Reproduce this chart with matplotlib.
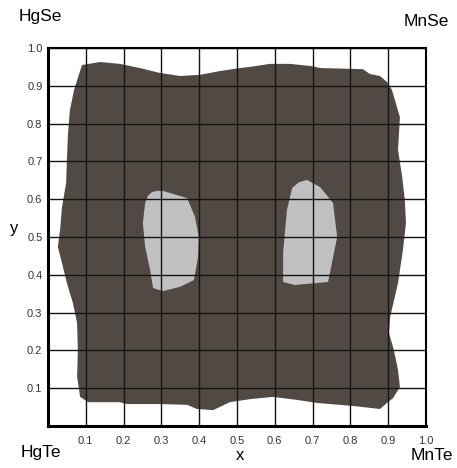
import matplotlib.pyplot as plt
from matplotlib.patches import Polygon

plt.rcParams['font.family'] = ['Liberation Sans', 'DejaVu Sans']

# outline of the two-phase region (x, y in composition units)
gap_x = [0.090, 0.138, 0.190, 0.243, 0.296, 0.349, 0.402, 0.455, 0.508, 0.534,
         0.587, 0.640, 0.698, 0.720, 0.833, 0.852, 0.878, 0.897, 0.910,
         0.918, 0.931, 0.926, 0.937, 0.944, 0.947, 0.939, 0.926, 0.905, 0.902,
         0.915, 0.926, 0.931, 0.913, 0.897, 0.878,
         0.807, 0.712, 0.659, 0.595, 0.534, 0.481, 0.437, 0.394, 0.368, 0.296,
         0.209, 0.190, 0.138, 0.106,
         0.085, 0.077, 0.079, 0.077, 0.066, 0.050, 0.037, 0.026, 0.032, 0.037,
         0.048, 0.050, 0.053, 0.058, 0.069, 0.077]
gap_y = [0.955, 0.963, 0.958, 0.947, 0.934, 0.926, 0.929, 0.939, 0.947, 0.950,
         0.958, 0.958, 0.952, 0.947, 0.944, 0.931, 0.926, 0.910, 0.889,
         0.862, 0.817, 0.730, 0.659, 0.598, 0.537, 0.466, 0.378, 0.288, 0.246,
         0.201, 0.148, 0.103, 0.074, 0.061, 0.045,
         0.053, 0.061, 0.069, 0.077, 0.071, 0.063, 0.042, 0.045, 0.056, 0.058,
         0.058, 0.063, 0.063, 0.063,
         0.077, 0.130, 0.201, 0.272, 0.325, 0.378, 0.431, 0.474, 0.519, 0.579,
         0.643, 0.704, 0.775, 0.836, 0.889, 0.915]

# single-phase islands inside the gap
left_x = [0.275, 0.290, 0.304, 0.368, 0.389, 0.399, 0.397, 0.386, 0.349, 0.304,
          0.278, 0.270, 0.257, 0.251, 0.257, 0.264]
left_y = [0.619, 0.622, 0.622, 0.603, 0.553, 0.500, 0.447, 0.386, 0.368, 0.357,
          0.365, 0.413, 0.474, 0.537, 0.590, 0.608]
right_x = [0.685, 0.720, 0.754, 0.765, 0.741, 0.653, 0.622, 0.622, 0.632, 0.646,
           0.664]
right_y = [0.651, 0.632, 0.590, 0.500, 0.381, 0.373, 0.381, 0.458, 0.571, 0.630,
           0.645]

ticks = [0.1, 0.2, 0.3, 0.4, 0.5, 0.6, 0.7, 0.8, 0.9, 1.0]
tick_labels = ['0.1', '0.2', '0.3', '0.4', '0.5', '0.6', '0.7', '0.8', '0.9', '1.0']

W, H = 457, 468
fig = plt.figure(figsize=(W / 100, H / 100), dpi=100)
ax = fig.add_axes([48 / W, 1 - 426 / H, 378 / W, 378 / H])

ax.add_patch(Polygon(list(zip(gap_x, gap_y)), closed=True,
                     facecolor='#514a44', edgecolor='none', zorder=1))
for bx, by in [(left_x, left_y), (right_x, right_y)]:
    ax.add_patch(Polygon(list(zip(bx, by)), closed=True,
                         facecolor='#c0c0c0', edgecolor='none', zorder=2))

ax.set_xlim(0, 1)
ax.set_ylim(0, 1)
ax.set_xticks(ticks)
ax.set_yticks(ticks)
ax.set_xticklabels(tick_labels)
ax.set_yticklabels(tick_labels)
ax.tick_params(length=0, labelsize=8, labelcolor='#333333')
ax.tick_params(axis='x', pad=7)
ax.tick_params(axis='y', pad=4)
ax.grid(True, color='#151515', linewidth=1.0, zorder=3)
ax.set_axisbelow(False)
for name, s in ax.spines.items():
    s.set_linewidth(2.2 if name in ('left', 'bottom') else 1.5)
    s.set_color('black')
    s.set_zorder(4)

# axis names and end-member compounds
def ftext(px, py, s, size, **kw):
    fig.text(px / W, 1 - py / H, s, fontsize=size, ha='center', va='center', **kw)

ftext(240, 455, 'x', 12)
ftext(14, 228, 'y', 12)
ftext(40, 16, 'HgSe', 12.5)
ftext(426, 22, 'MnSe', 12.5)
ftext(41, 453, 'HgTe', 12.5)
ftext(432, 456, 'MnTe', 12.5)

fig.savefig('out.png', dpi=100)
